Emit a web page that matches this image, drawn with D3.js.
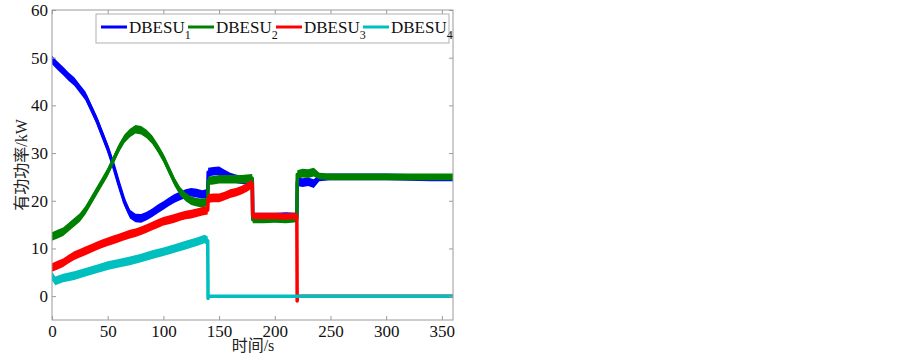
<!DOCTYPE html>
<html><head><meta charset="utf-8">
<script src="https://cdn.jsdelivr.net/npm/d3@7"></script>
<style>body{margin:0;background:#fff}svg{display:block}
.serif{font-family:"Liberation Serif","Times New Roman",serif}
.cjk{font-family:"Liberation Serif","Noto Sans CJK SC",serif}
</style>
</head><body>
<svg id="c" width="903" height="354"></svg>
<script>
// [time s, power kW, noise half-band kW]
const dbesu1 = [[0,49.5,0.9],[5,48.3,0.9],[10,47.2,0.9],[15,46,0.9],[20,45,0.9],[25,43.5,0.9],[30,42,0.9],[35,39.5,0.9],[40,37,0.9],[45,34,0.9],[50,31,0.9],[55,27.5,0.9],[60,23.5,0.9],[65,19.8,0.9],[70,17.2,0.9],[75,16.4,0.9],[80,16.3,0.9],[85,16.8,0.9],[90,17.5,0.9],[95,18.3,0.9],[100,19,0.9],[105,19.8,0.9],[110,20.5,0.9],[115,21,0.9],[120,21.5,0.9],[125,21.8,0.9],[130,21.6,0.9],[135,21.3,0.9],[139.8,21.6,0.9],[140.2,26,0.9],[145,26.2,0.9],[150,26.3,0.9],[155,25.6,0.9],[160,25,0.9],[165,24.6,0.9],[170,24.4,0.9],[175,24.3,0.9],[179.8,24.3,0.9],[180.2,16.8,0.7],[190,16.8,0.7],[200,16.8,0.7],[210,16.9,0.7],[219.8,16.8,0.7],[220.2,24,0.9],[225,23.8,0.9],[230,24,0.9],[235,23.6,0.9],[240,24.8,0.7],[250,25,0.7],[270,25,0.7],[300,25,0.7],[340,24.8,0.7],[360,24.8,0.7]];
const dbesu2 = [[0,12.5,0.9],[5,13,0.9],[10,13.5,0.9],[15,14.5,0.9],[20,15.5,0.9],[25,16.5,0.9],[30,18,0.9],[35,20,0.9],[40,22,0.9],[45,24,0.9],[50,26,0.9],[55,28.5,0.9],[60,31,0.9],[65,33,0.9],[70,34.2,0.9],[75,35,0.9],[80,34.8,0.9],[85,34,0.9],[90,32.8,0.9],[95,31,0.9],[100,29,0.9],[105,26.5,0.9],[110,24,0.9],[115,22,0.9],[120,20.8,0.9],[125,20,0.9],[130,19.7,0.9],[135,19.5,0.9],[139.8,19.8,0.9],[140.2,24.2,0.9],[145,24.3,0.9],[150,24.5,0.9],[160,24.5,0.9],[170,24.5,0.9],[179.8,24.7,0.9],[180.2,16,0.7],[190,16,0.7],[200,16.1,0.7],[210,16,0.7],[219.8,16.2,0.7],[220.2,25.5,0.9],[225,25.8,0.9],[230,25.7,0.9],[235,26,0.9],[240,25.2,0.7],[250,25,0.7],[300,25,0.7],[360,25,0.7]];
const dbesu3 = [[0,6,0.9],[5,6.5,0.9],[10,7,0.9],[15,7.8,0.9],[20,8.5,0.9],[25,9,0.9],[30,9.5,0.9],[35,10,0.9],[40,10.5,0.9],[45,11,0.9],[50,11.4,0.9],[55,11.8,0.9],[60,12.2,0.9],[65,12.6,0.9],[70,13,0.9],[75,13.3,0.9],[80,13.7,0.9],[85,14.2,0.9],[90,14.7,0.9],[95,15.2,0.9],[100,15.7,0.9],[105,16,0.9],[110,16.3,0.9],[115,16.7,0.9],[120,17,0.9],[125,17.2,0.9],[130,17.5,0.9],[135,17.8,0.9],[139.8,18,0.9],[140.2,20.5,0.9],[145,20.6,0.9],[150,20.6,0.9],[155,21,0.9],[160,21.5,0.9],[165,21.8,0.9],[170,22.2,0.9],[175,22.8,0.9],[179.8,23.5,0.9],[180.2,16.8,0.7],[190,16.8,0.7],[200,16.8,0.7],[210,16.7,0.7],[219.8,16.8,0.7],[220.1,-1,0],[220.4,0,0],[360,0,0]];
const dbesu4 = [[0,4.2,0.9],[3,3.2,0.9],[10,3.8,0.9],[20,4.3,0.9],[30,5,0.9],[40,5.7,0.9],[50,6.4,0.9],[60,6.9,0.9],[70,7.4,0.9],[80,8,0.9],[90,8.7,0.9],[100,9.3,0.9],[110,10,0.9],[120,10.7,0.9],[130,11.4,0.9],[137,12,0.9],[139.8,11.6,0.9],[140.1,-0.5,0],[140.5,0,0],[360,0,0]];

const seriesNames = ["DBESU","DBESU","DBESU","DBESU"];
const seriesSubs = ["1","2","3","4"];
const seriesColors = ["#0000ff","#008000","#ff0000","#00bfbf"];
const xTicks = [0,50,100,150,200,250,300,350];
const yTicks = [0,10,20,30,40,50,60];
const xLabel = "时间/s";
const yLabel = "有功功率/kW";

const svg = d3.select("#c");
const L = 52, R = 453, T = 10, B = 320;
const x = d3.scaleLinear().domain([0,360]).range([L,R]);
const y = d3.scaleLinear().domain([-5,60]).range([B,T]);

svg.append("defs").append("clipPath").attr("id","clip")
  .append("rect").attr("x",L).attr("y",T).attr("width",R-L).attr("height",B-T);

const g = svg.append("g").attr("clip-path","url(#clip)");
const all = [dbesu1,dbesu2,dbesu3,dbesu4];
const area = d3.area().x(d=>x(d[0])).y0(d=>y(d[1]-d[2])).y1(d=>y(d[1]+d[2]));
const line = d3.line().x(d=>x(d[0])).y(d=>y(d[1]));
all.forEach((s,i)=>{
  g.append("path").datum(s).attr("d",area).attr("fill",seriesColors[i]);
  g.append("path").datum(s).attr("d",line).attr("fill","none")
    .attr("stroke",seriesColors[i]).attr("stroke-width",3.5).attr("stroke-linejoin","round");
});

// frame + ticks
const axc = "#9a9a9a";
svg.append("rect").attr("x",L).attr("y",T).attr("width",R-L).attr("height",B-T)
  .attr("fill","none").attr("stroke",axc).attr("stroke-width",1);
const axB = svg.append("g").attr("transform",`translate(0,${B})`)
  .call(d3.axisBottom(x).tickValues(xTicks).tickSize(-4).tickPadding(5).tickFormat(d3.format("d")));
const axT = svg.append("g").attr("transform",`translate(0,${T})`)
  .call(d3.axisTop(x).tickValues(xTicks).tickSize(-4).tickFormat(""));
const axL = svg.append("g").attr("transform",`translate(${L},0)`)
  .call(d3.axisLeft(y).tickValues(yTicks).tickSize(-4).tickPadding(4).tickFormat(d3.format("d")));
const axR = svg.append("g").attr("transform",`translate(${R},0)`)
  .call(d3.axisRight(y).tickValues(yTicks).tickSize(-4).tickFormat(""));
[axB,axT,axL,axR].forEach(a=>{
  a.attr("font-family",null).attr("font-size",null);
  a.select(".domain").remove();
  a.selectAll(".tick line").attr("stroke",axc);
  a.selectAll(".tick text").attr("class","serif").style("font-size","17px").attr("fill","#111");
});

svg.append("text").attr("class","cjk").attr("x",253).attr("y",351).attr("text-anchor","middle")
  .style("font-size","16px").attr("fill","#222").text(xLabel);
svg.append("text").attr("class","cjk").attr("transform","translate(27,165) rotate(-90)").attr("text-anchor","middle")
  .style("font-size","16px").attr("fill","#222").text(yLabel);

// legend
const lg = svg.append("g");
lg.append("rect").attr("x",96).attr("y",14).attr("width",353).attr("height",29)
  .attr("fill","#fff").attr("stroke","#b0b0b0").attr("stroke-width",1);
const lx = [101,188,276,363];
seriesNames.forEach((n,i)=>{
  lg.append("line").attr("x1",lx[i]).attr("x2",lx[i]+26).attr("y1",27).attr("y2",27)
    .attr("stroke",seriesColors[i]).attr("stroke-width",3);
  const t = lg.append("text").attr("class","serif").attr("x",lx[i]+28).attr("y",33)
    .style("font-size","17px").attr("fill","#111");
  t.append("tspan").text(n);
  t.append("tspan").style("font-size","12px").attr("dy",6).text(seriesSubs[i]);
});
</script>
</body></html>
